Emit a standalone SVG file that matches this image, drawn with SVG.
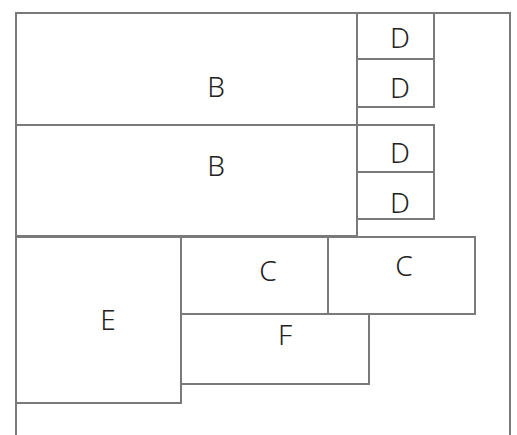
<svg xmlns="http://www.w3.org/2000/svg" width="517" height="435" viewBox="0 0 517 435">
<style>
.box{fill:none;stroke:#7a7a7a;stroke-width:2}
.ln{fill:none;stroke:#7a7a7a;stroke-width:2}
.lbl{font-family:"Noto Sans","DejaVu Sans",sans-serif;font-size:28px;font-weight:300;fill:#222;text-anchor:middle}
</style>
<rect width="517" height="435" fill="#fff"/>
<g id="frame"><path class="ln" d="M16,435 V13 H510 V435"/></g>
<g id="B1"><rect class="box" x="16" y="13" width="341" height="112"/><text class="lbl" x="216" y="97">B</text></g>
<g id="B2"><rect class="box" x="16" y="125" width="341" height="111"/><text class="lbl" x="216" y="176">B</text></g>
<g id="D1"><rect class="box" x="357" y="13" width="77" height="46"/><text class="lbl" x="400" y="48">D</text></g>
<g id="D2"><rect class="box" x="357" y="59" width="77" height="48"/><text class="lbl" x="400" y="98">D</text></g>
<g id="D3"><rect class="box" x="357" y="125" width="77" height="47"/><text class="lbl" x="400" y="163">D</text></g>
<g id="D4"><rect class="box" x="357" y="172" width="77" height="47"/><text class="lbl" x="400" y="213">D</text></g>
<g id="E"><rect class="box" x="16" y="237" width="165" height="166"/><text class="lbl" x="108" y="330">E</text></g>
<g id="C1"><rect class="box" x="181" y="237" width="147" height="77"/><text class="lbl" x="268" y="281">C</text></g>
<g id="C2"><rect class="box" x="328" y="237" width="147" height="77"/><text class="lbl" x="404" y="276">C</text></g>
<g id="F"><rect class="box" x="181" y="314" width="188" height="70"/><text class="lbl" x="285" y="345">F</text></g>
<g id="connectors"/>
</svg>
